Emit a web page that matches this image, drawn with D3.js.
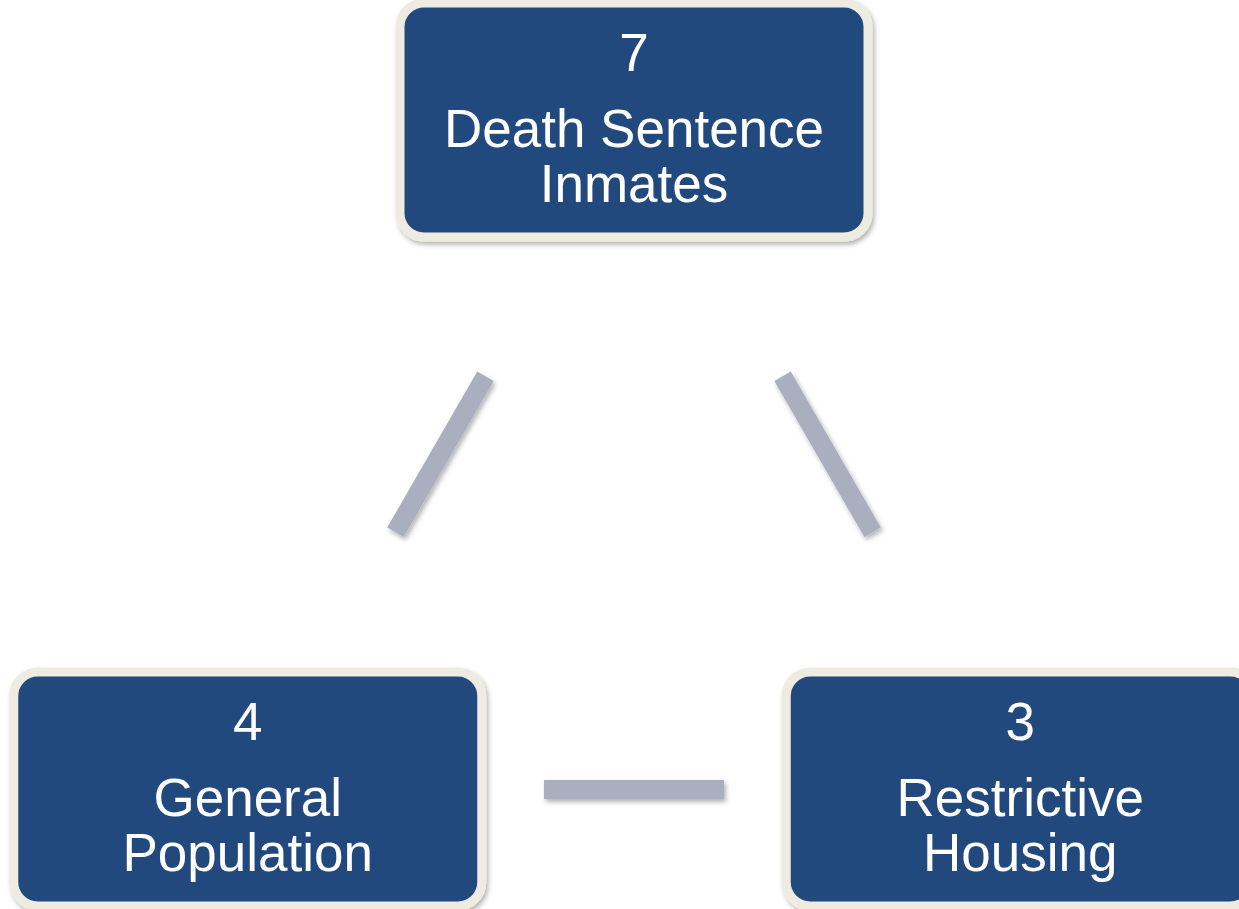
<!DOCTYPE html>
<html>
<head>
<meta charset="utf-8">
<script src="https://cdn.jsdelivr.net/npm/d3@7"></script>
<style>
  html, body { margin: 0; padding: 0; background: #ffffff; overflow: hidden; }
  svg { display: block; }
</style>
</head>
<body>
<script>
// cycle order, clockwise from the top
const counts = [7, 3, 4];
const labels = [["Death Sentence", "Inmates"], ["Restrictive", "Housing"], ["General", "Population"]];

const width = 1239, height = 909;
const cx = 634, cy = 566, radius = 446;
const boxW = 468, boxH = 234;

const svg = d3.select('body').append('svg')
    .attr('width', width)
    .attr('height', height);

// soft drop shadow like the original SmartArt
const defs = svg.append('defs');
defs.append('filter')
    .attr('id', 'shadow')
    .attr('x', '-20%').attr('y', '-20%')
    .attr('width', '140%').attr('height', '140%')
    .append('feDropShadow')
    .attr('dx', 2).attr('dy', 3)
    .attr('stdDeviation', 2.5)
    .attr('flood-color', '#000')
    .attr('flood-opacity', 0.3);

// angle of each node around the cycle
const angle = d3.scaleLinear().domain([0, counts.length]).range([-Math.PI / 2, 1.5 * Math.PI]);

const nodes = counts.map((v, i) => ({
    value: v,
    lines: labels[i],
    x: cx + radius * Math.cos(angle(i)),
    y: cy + radius * Math.sin(angle(i))
}));

// connectors sit halfway between neighbouring nodes
const links = nodes.map((n, i) => {
    const m = nodes[(i + 1) % nodes.length];
    return {
        x: (n.x + m.x) / 2,
        y: (n.y + m.y) / 2,
        rot: Math.atan2(m.y - n.y, m.x - n.x) * 180 / Math.PI
    };
});

// filter on the group so the shadow always falls down-right
svg.append('g')
    .attr('filter', 'url(#shadow)')
    .selectAll('rect')
    .data(links)
    .join('rect')
    .attr('x', -90)
    .attr('y', -10)
    .attr('width', 180)
    .attr('height', 19)
    .attr('transform', d => `translate(${d.x},${d.y}) rotate(${d.rot})`)
    .style('fill', '#a9afbe');

const box = svg.append('g').selectAll('g')
    .data(nodes)
    .join('g')
    .attr('transform', d => `translate(${d.x},${d.y})`);

box.append('rect')
    .attr('x', -boxW / 2)
    .attr('y', -boxH / 2)
    .attr('width', boxW)
    .attr('height', boxH)
    .attr('rx', 24)
    .style('fill', '#214a7d')
    .style('stroke', '#eeece1')
    .style('stroke-width', 9)
    .attr('filter', 'url(#shadow)');

const txt = box.append('text')
    .attr('text-anchor', 'middle')
    .style('font-family', '"Liberation Sans", Arial, sans-serif')
    .style('font-size', '53px')
    .style('fill', '#ffffff');

txt.append('tspan')
    .attr('x', 0)
    .attr('y', -49)
    .text(d => d.value);

txt.selectAll('tspan.line')
    .data(d => d.lines)
    .join('tspan')
    .attr('class', 'line')
    .attr('x', 0)
    .attr('y', (d, i) => 27 + i * 55)
    .text(d => d);
</script>
</body>
</html>
